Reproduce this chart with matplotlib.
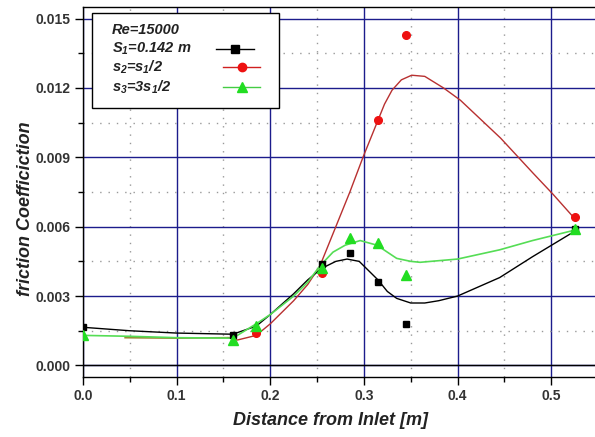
import matplotlib
matplotlib.use('Agg')
import matplotlib.pyplot as plt
from matplotlib.patches import Rectangle
from matplotlib.lines import Line2D
from matplotlib.ticker import MultipleLocator, FormatStrFormatter

plt.rcParams['font.family'] = 'Liberation Sans'
plt.rcParams['mathtext.fontset'] = 'custom'
plt.rcParams['mathtext.it'] = 'Liberation Sans:bold:italic'
plt.rcParams['mathtext.rm'] = 'Liberation Sans:bold:italic'

# measured points
black_x = [0.0, 0.16, 0.255, 0.285, 0.315, 0.345, 0.525]
black_y = [0.00165, 0.0013, 0.0044, 0.00485, 0.0036, 0.0018, 0.0059]
red_x = [0.185, 0.255, 0.315, 0.345, 0.525]
red_y = [0.0014, 0.0040, 0.0106, 0.0143, 0.0064]
green_x = [0.0, 0.16, 0.185, 0.255, 0.285, 0.315, 0.345, 0.525]
green_y = [0.0013, 0.0011, 0.0017, 0.0042, 0.0055, 0.0053, 0.0039, 0.0059]

# smoothed fit curves
black_cx = [0.0, 0.05, 0.10, 0.16, 0.185, 0.20, 0.225, 0.24, 0.255, 0.27, 0.282,
            0.295, 0.305, 0.315, 0.325, 0.335, 0.35, 0.365, 0.38, 0.40, 0.445, 0.48, 0.525]
black_cy = [0.00165, 0.0015, 0.0014, 0.00135, 0.0017, 0.0022, 0.0031, 0.0037, 0.0042, 0.0045, 0.0046,
            0.0045, 0.0041, 0.0037, 0.0032, 0.0029, 0.0027, 0.0027, 0.0028, 0.0030, 0.0038, 0.0047, 0.0058]
green_cx = [0.0, 0.05, 0.10, 0.16, 0.185, 0.20, 0.225, 0.24, 0.253, 0.267, 0.28, 0.296,
            0.314, 0.325, 0.335, 0.35, 0.36, 0.40, 0.445, 0.48, 0.525]
green_cy = [0.0013, 0.00126, 0.0012, 0.00118, 0.0018, 0.0022, 0.0030, 0.0036, 0.0043, 0.0049, 0.0052, 0.0054,
            0.0052, 0.0049, 0.00463, 0.0045, 0.00446, 0.0046, 0.0050, 0.0054, 0.00585]
red_flat_x = [0.045, 0.10, 0.155]
red_flat_y = [0.0012, 0.00118, 0.0012]
red_cx = [0.155, 0.165, 0.185, 0.20, 0.225, 0.24, 0.253, 0.269, 0.285, 0.299, 0.314, 0.322, 0.33, 0.34,
          0.351, 0.365, 0.385, 0.403, 0.446, 0.481, 0.502, 0.524]
red_cy = [0.0012, 0.0011, 0.0013, 0.0018, 0.0028, 0.0035, 0.0043, 0.0059, 0.0075, 0.0090, 0.0105, 0.0113, 0.0119,
          0.01235, 0.01255, 0.0125, 0.0120, 0.01147, 0.00983, 0.0083, 0.0074, 0.0064]

W, H = 595, 437
fig = plt.figure(figsize=(W / 100, H / 100), dpi=100)
ax = fig.add_axes([83 / W, 1 - 377 / H, 515 / W, 370 / H])
ax.set_xlim(0, 0.55)
ax.set_ylim(-0.0005, 0.0155)

navy = '#1c1c8c'
ax.xaxis.set_major_locator(MultipleLocator(0.1))
ax.xaxis.set_minor_locator(MultipleLocator(0.05))
ax.yaxis.set_major_locator(MultipleLocator(0.003))
ax.yaxis.set_minor_locator(MultipleLocator(0.0015))
ax.xaxis.set_major_formatter(FormatStrFormatter('%.1f'))
ax.yaxis.set_major_formatter(FormatStrFormatter('%.3f'))
ax.grid(which='major', color=navy, linewidth=1.0)
ax.grid(which='minor', color='#999999', linestyle=(0, (1, 5)), linewidth=1.0)
ax.axhline(0, color='black', linewidth=1.0, zorder=1.5)
ax.set_axisbelow(True)

ax.spines['right'].set_visible(False)
for s in ['left', 'top', 'bottom']:
    ax.spines[s].set_linewidth(1.0)
ax.tick_params(which='major', direction='out', length=6, width=1, labelsize=10,
               labelcolor='#333333', pad=3)
ax.tick_params(which='minor', direction='out', length=3.5, width=1)
for lab in ax.get_xticklabels() + ax.get_yticklabels():
    lab.set_fontweight('bold')

ax.plot(red_flat_x, red_flat_y, color='#9a8a30', linewidth=1.2, zorder=3)
ax.plot(red_cx, red_cy, color='#b83030', linewidth=1.0, zorder=3)
ax.plot(black_cx, black_cy, color='black', linewidth=1.0, zorder=3)
ax.plot(green_cx, green_cy, color='#55dd55', linewidth=1.2, zorder=3)
ax.plot(red_x, red_y, 'o', color='#ee1111', markersize=5.5, zorder=4)
ax.plot(black_x, black_y, 's', color='black', markersize=5, zorder=5)
ax.plot(green_x, green_y, '^', color='#22dd22', markersize=7, zorder=6)

ax.set_xlabel('Distance from Inlet [m]', fontsize=13, fontweight='bold',
              fontstyle='italic', color='#222222')
ax.set_ylabel('friction Coefficiction', fontsize=13, fontweight='bold',
              fontstyle='italic', color='#222222')
ax.xaxis.set_label_coords(0.48, -0.095)
ax.yaxis.set_label_coords(-0.096, 0.455)

# legend box
def fx(px):
    return px / W

def fy(py):
    return 1 - py / H

fig.patches.append(Rectangle((fx(92), fy(108)), fx(279) - fx(92), fy(13) - fy(108),
                             transform=fig.transFigure, facecolor='white',
                             edgecolor='black', linewidth=1.0, zorder=10))
entries = [
    ('Re=15000', None, None, 30),
    (r'$S_1$=0.142 m', 'black', 's', 49),
    (r'$s_2$=$s_1$/2', '#ee1111', 'o', 67),
    (r'$s_3$=3$s_1$/2', '#22dd22', '^', 87),
]
line_cols = {'black': 'black', '#ee1111': '#d02020', '#22dd22': '#44cc44'}
for text, col, mk, py in entries:
    fig.text(fx(112), fy(py), text, fontsize=10.5, fontweight='bold', fontstyle='italic',
             va='center', ha='left', color='#222222', zorder=11)
    if col is not None:
        x0, x1 = (216, 254) if mk == 's' else (223, 260)
        fig.lines.append(Line2D([fx(x0), fx(x1)], [fy(py), fy(py)], transform=fig.transFigure,
                                color=line_cols[col], linewidth=1.0, zorder=11))
        fig.lines.append(Line2D([fx((x0 + x1) / 2)], [fy(py)], transform=fig.transFigure,
                                marker=mk, color=col, markersize=6 if mk != '^' else 7,
                                linestyle='none', zorder=12))

fig.savefig('out.png', dpi=100)
